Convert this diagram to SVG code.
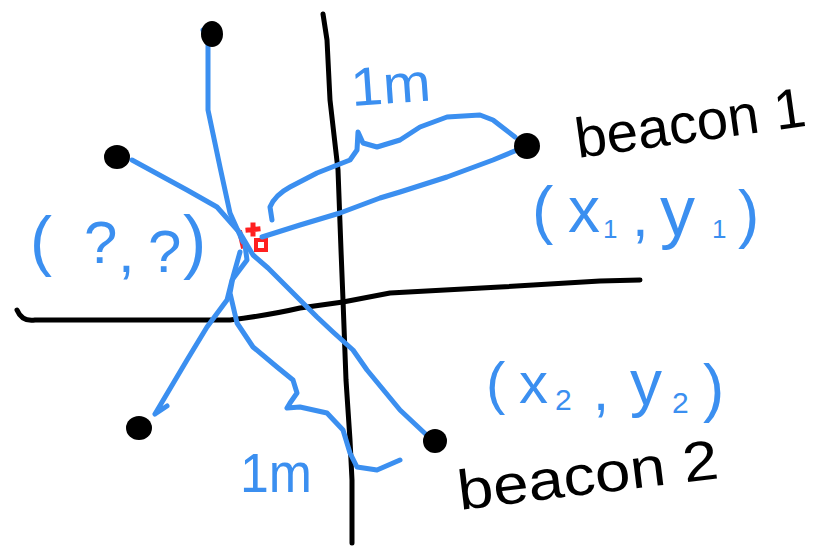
<svg xmlns="http://www.w3.org/2000/svg" width="817" height="547" viewBox="0 0 817 547">
<style>
.axis{fill:none;stroke:#000;stroke-width:5;stroke-linecap:round;stroke-linejoin:round}
.conn{fill:none;stroke:#3b8ff0;stroke-width:5;stroke-linecap:round;stroke-linejoin:round}
.dot{fill:#000}
.lbl{font-family:"Liberation Sans",Arial,sans-serif;fill:#000}
.blue{font-family:"Liberation Sans",Arial,sans-serif;fill:#3b8ff0}
</style>
<rect width="817" height="547" fill="#fff"/>
<g id="axes">
<path class="axis" d="M323,14 L327,40 L330,100 L338,170 L341,250 L343,300 L346,380 L350,440 L352,480 L352,543"/>
<path class="axis" d="M17,310 Q22,322 35,320 L100,320 L230,320 Q270,315 300,308 L343,302 L390,293 L500,287 L600,281 L640,280"/>
</g>
<g id="unknown-point">
<path d="M240,233 L243,246 M248,230 L258,229 M253,225 L253,234" fill="none" stroke="#ff2020" stroke-width="5" stroke-linecap="square"/>
<rect x="256" y="240" width="10" height="10" fill="#fff" stroke="#ff2020" stroke-width="4"/>
</g>
<g id="connectors">
<path class="conn" d="M203,30 L208,43 L208,110 L220,167 L230,213 L243,242"/>
<path class="conn" d="M132,160 L187,190 L217,207 L240,233 L253,255 L268,268 L287,287 L317,317 L333,332 L353,350 L367,370 L400,410 L432,440"/>
<path class="conn" d="M522,148 L493,160 L447,177 L400,192 L380,198 L340,213 L300,225 L262,237"/>
<path class="conn" d="M272,220 L270,207 Q275,195 290,187 L317,173 L350,160 L357,150 L358,132 L363,143 L377,147 L400,140 L420,127 L447,117 L480,115 L493,120 L515,137"/>
<path class="conn" d="M245,245 L247,260 L232,280 L227,300 L207,327 L187,360 L155,414 M155,414 L167,406"/>
<path class="conn" d="M240,252 L233,277 L230,293 L237,323 L253,347 L277,367 L293,380 L297,393 L290,403 L287,408 L300,407 L327,413 L343,430 L350,453 L357,467 L377,470 L400,460"/>
</g>
<g id="node-top"><ellipse class="dot" cx="212" cy="34" rx="11" ry="13"/></g>
<g id="node-left"><ellipse class="dot" cx="117" cy="157" rx="13" ry="12"/></g>
<g id="node-bottom-left"><ellipse class="dot" cx="139" cy="428" rx="13" ry="12"/></g>
<g id="beacon1">
<circle class="dot" cx="527" cy="146" r="13"/>
<text class="lbl" x="578" y="158" font-size="56" textLength="232" lengthAdjust="spacingAndGlyphs" transform="rotate(-8 578 158)">beacon 1</text>
</g>
<g id="beacon2">
<circle class="dot" cx="435" cy="441" r="12"/>
<text class="lbl" x="460" y="510" font-size="56" textLength="262" lengthAdjust="spacingAndGlyphs" transform="rotate(-7 460 510)">beacon 2</text>
</g>
<g id="label-x1y1" class="blue">
<text font-size="64" y="232"><tspan x="532">(</tspan><tspan x="568">x</tspan><tspan x="603" y="238" font-size="26">1</tspan><tspan x="632" y="236" font-size="60">,</tspan><tspan x="660" y="235" font-size="70">y</tspan><tspan x="712" y="238" font-size="26">1</tspan><tspan x="738" y="236">)</tspan></text>
</g>
<g id="label-x2y2" class="blue">
<text font-size="58" y="403"><tspan x="486">(</tspan><tspan x="519">x</tspan><tspan x="555" y="410" font-size="30">2</tspan><tspan x="593" y="410">,</tspan><tspan x="630" y="405" font-size="64">y</tspan><tspan x="672" y="413" font-size="30">2</tspan><tspan x="703" y="410" font-size="64">)</tspan></text>
</g>
<g id="label-unknown" class="blue">
<text font-size="60" y="263"><tspan x="30" font-size="66">(</tspan><tspan x="84">?</tspan><tspan x="118" y="272">,</tspan><tspan x="148">?</tspan><tspan x="183" y="265" font-size="70">)</tspan></text>
</g>
<g id="label-1m-top" class="blue">
<text x="352" y="106" font-size="54" textLength="80" lengthAdjust="spacingAndGlyphs" transform="rotate(-4 352 106)">1m</text>
</g>
<g id="label-1m-bottom" class="blue">
<text x="240" y="492" font-size="56" textLength="72" lengthAdjust="spacingAndGlyphs">1m</text>
</g>
</svg>
